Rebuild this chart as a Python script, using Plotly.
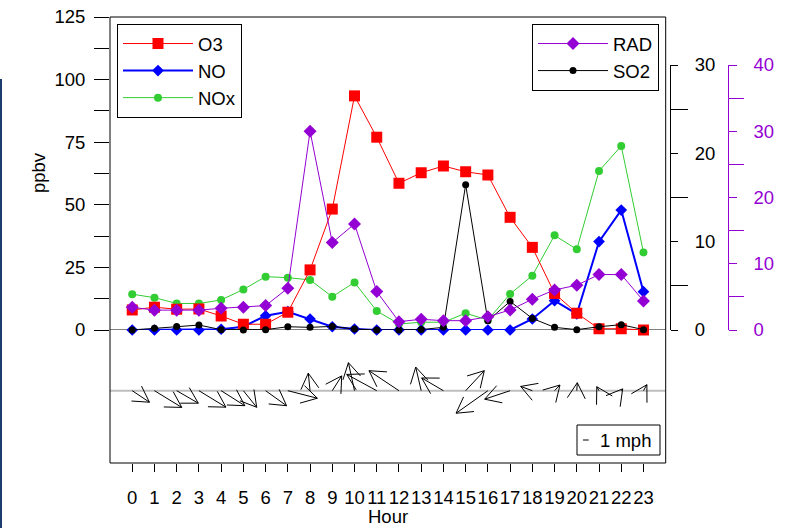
import math
import plotly.graph_objects as go

# ---------------- data ----------------
hours = list(range(24))
hour_labels = [str(h) for h in hours]

o3 = [8.0, 9.1, 8.3, 8.4, 5.6, 2.3, 2.3, 7.1, 24.0, 48.3, 93.5, 77.0,
      58.6, 62.8, 65.5, 63.2, 61.9, 45.0, 33.0, 14.6, 6.7, 0.5, 0.5, 0.0]
no = [0.0, 0.0, 0.0, 0.0, 0.3, 1.3, 5.7, 7.3, 4.4, 1.3, 0.4, 0.0,
      0.0, 0.0, 0.0, 0.0, 0.0, 0.0, 4.4, 11.7, 6.4, 35.3, 47.9, 15.3]
nox = [14.3, 12.9, 10.6, 10.6, 12.0, 16.2, 21.3, 20.9, 20.0, 13.3, 19.0, 7.6,
       2.4, 3.1, 3.1, 6.7, 4.0, 14.4, 21.7, 37.8, 32.2, 63.5, 73.5, 31.0]
rad = [3.43, 3.0, 3.0, 3.0, 3.28, 3.43, 3.68, 6.3, 30.0, 13.2, 16.0, 5.8,
       1.26, 1.62, 1.41, 1.41, 2.0, 3.03, 4.64, 6.05, 6.76, 8.37, 8.37, 4.39]
so2 = [0.0, 0.2, 0.4, 0.56, 0.04, 0.0, 0.04, 0.37, 0.3, 0.41, 0.11, 0.0,
       0.0, 0.05, 0.3, 16.45, 1.05, 3.24, 1.31, 0.3, 0.04, 0.37, 0.6, 0.04]

# wind components (mph): u = toward east, v = toward north
wind_u = [3.02, 4.79, 3.79, 4.74, 4.16, 2.34, 3.68, 5.18, -0.31, 1.65, -1.07, -5.26,
          -5.26, -0.96, -3.81, 3.27, -5.58, -4.46, -2.04, 0.95, 0.09, -0.39, 0.25, 0.60]
wind_v = [-2.02, -2.93, -2.19, -2.89, -2.63, -2.91, -2.63, -1.32, 3.07, 2.60, 4.91, 2.86,
          3.51, 4.14, 2.23, 3.51, -3.95, -1.49, 0.75, 1.00, 1.40, 0.70, 0.32, 1.05]

# ---------------- layout geometry (px) ----------------
W, H = 787, 528
FRAME_L, FRAME_R = 110, 665.7
FRAME_T, PANEL_SPLIT, FRAME_B = 17, 330, 463
RIGHT_AX_TOP = 65
BLACK_AX_X, PURPLE_AX_X = 670, 727.7
WIND_BASE_Y = 390.7
X_RANGE = [-1, 24]
PX_PER_MPH = 5.7
HEAD_PX = 18
FONT = "Liberation Sans, Arial, sans-serif"
FS = 18.5

RED, BLUE, GREEN, PURPLE = "#FF0000", "#0000FF", "#32CD32", "#9400D3"


def px_x(px):
    return px / W


def px_y(py):
    return 1 - py / H


px_per_hour = (FRAME_R - FRAME_L) / (X_RANGE[1] - X_RANGE[0])
wind_range = [-(FRAME_B - WIND_BASE_Y) / PX_PER_MPH, (WIND_BASE_Y - PANEL_SPLIT) / PX_PER_MPH]

# ---------------- wind arrows ----------------
ax_x, ax_y = [], []
for h, u, v in zip(hours, wind_u, wind_v):
    dxp, dyp = u * PX_PER_MPH, v * PX_PER_MPH
    L = math.hypot(dxp, dyp)
    if L == 0:
        continue
    tip = (dxp, dyp)
    bx, by = -dxp / L, -dyp / L
    barbs = []
    for s in (1, -1):
        a = s * math.pi / 6
        rx = bx * math.cos(a) - by * math.sin(a)
        ry = bx * math.sin(a) + by * math.cos(a)
        barbs.append((tip[0] + HEAD_PX * rx, tip[1] + HEAD_PX * ry))

    def to_data(p, h=h):
        return h + p[0] / px_per_hour, p[1] / PX_PER_MPH

    pts = [to_data((0, 0)), to_data(tip), None, to_data(barbs[0]), to_data(tip), to_data(barbs[1]), None]
    for p in pts:
        if p is None:
            ax_x.append(None)
            ax_y.append(None)
        else:
            ax_x.append(p[0])
            ax_y.append(p[1])

fig = go.Figure()

fig.add_trace(go.Scatter(x=hours, y=rad, name="RAD", mode="lines+markers", yaxis="y4",
                         line=dict(color=PURPLE, width=1),
                         marker=dict(symbol="diamond", size=10, color=PURPLE),
                         legend="legend2", legendrank=1, cliponaxis=False))
fig.add_trace(go.Scatter(x=hours, y=so2, name="SO2", mode="lines+markers", yaxis="y3",
                         line=dict(color="black", width=1),
                         marker=dict(symbol="circle", size=7, color="black"),
                         legend="legend2", legendrank=2, cliponaxis=False))
fig.add_trace(go.Scatter(x=hours, y=nox, name="NOx", mode="lines+markers",
                         line=dict(color=GREEN, width=1),
                         marker=dict(symbol="circle", size=8, color=GREEN),
                         legendrank=3, cliponaxis=False))
fig.add_trace(go.Scatter(x=hours, y=no, name="NO", mode="lines+markers",
                         line=dict(color=BLUE, width=2),
                         marker=dict(symbol="diamond", size=9, color=BLUE),
                         legendrank=2, cliponaxis=False))
fig.add_trace(go.Scatter(x=hours, y=o3, name="O3", mode="lines+markers",
                         line=dict(color=RED, width=1),
                         marker=dict(symbol="square", size=11, color=RED),
                         legendrank=1, cliponaxis=False))

fig.add_trace(go.Scatter(x=ax_x, y=ax_y, mode="lines", yaxis="y2", showlegend=False,
                         line=dict(color="black", width=1), hoverinfo="skip", cliponaxis=False))

xdom = [px_x(FRAME_L), px_x(FRAME_R)]
tickfont = dict(family=FONT, size=FS, color="black")

fig.update_layout(
    width=W, height=H, autosize=False,
    margin=dict(l=0, r=0, t=0, b=0, pad=0, autoexpand=False),
    paper_bgcolor="white", plot_bgcolor="rgba(0,0,0,0)",
    font=dict(family=FONT, size=FS, color="black"),
    xaxis=dict(domain=xdom, range=X_RANGE, anchor="y2", tickvals=hours, ticktext=hour_labels,
               ticks="outside", ticklen=8, tickcolor="black", tickwidth=1, tickangle=0,
               tickfont=tickfont, showgrid=False, zeroline=False, showline=False,
               ticklabelstandoff=10, automargin=False),
    yaxis=dict(domain=[px_y(PANEL_SPLIT), px_y(FRAME_T)], range=[0, 125], anchor="x",
               tickvals=[0, 25, 50, 75, 100, 125], ticks="outside", ticklen=15, tickcolor="black",
               minor=dict(tickvals=[12.5, 37.5, 62.5, 87.5, 112.5], ticks="outside", ticklen=15,
                          tickcolor="black"),
               tickfont=tickfont, showgrid=False, zeroline=False, showline=False,
               ticklabelstandoff=5, automargin=False),
    yaxis2=dict(domain=[px_y(FRAME_B), px_y(PANEL_SPLIT)], range=wind_range, anchor="x",
                visible=False, showgrid=False, zeroline=False, automargin=False),
    yaxis3=dict(domain=[px_y(PANEL_SPLIT), px_y(RIGHT_AX_TOP)], range=[0, 30], anchor="free",
                position=px_x(BLACK_AX_X), side="right", showline=True, linecolor="black",
                linewidth=1, tickvals=[0, 10, 20, 30], ticks="outside", ticklen=7,
                tickcolor="black",
                minor=dict(tickvals=[5, 15, 25], ticks="outside", ticklen=17, tickcolor="black"),
                tickfont=tickfont, showgrid=False, zeroline=False, ticklabelstandoff=13,
                automargin=False),
    yaxis4=dict(domain=[px_y(PANEL_SPLIT), px_y(RIGHT_AX_TOP)], range=[0, 40], anchor="free",
                position=px_x(PURPLE_AX_X), side="right", showline=True, linecolor=PURPLE,
                linewidth=1, tickvals=[0, 10, 20, 30, 40], ticks="outside", ticklen=8,
                tickcolor=PURPLE,
                minor=dict(tickvals=[5, 15, 25, 35], ticks="outside", ticklen=15, tickcolor=PURPLE),
                tickfont=dict(family=FONT, size=FS, color=PURPLE), showgrid=False,
                zeroline=False, ticklabelstandoff=13, automargin=False),
    legend=dict(x=px_x(117), y=px_y(24), xanchor="left", yanchor="top",
                bordercolor="black", borderwidth=1, bgcolor="white",
                font=dict(family=FONT, size=FS, color="black"), itemwidth=70,
                traceorder="normal"),
    legend2=dict(x=px_x(659), y=px_y(24), xanchor="right", yanchor="top",
                 bordercolor="black", borderwidth=1, bgcolor="white",
                 font=dict(family=FONT, size=FS, color="black"), itemwidth=70,
                 traceorder="normal"),
    showlegend=True,
)

shapes = [
    # outer frame
    dict(type="rect", xref="paper", yref="paper", x0=xdom[0], x1=xdom[1],
         y0=px_y(FRAME_B), y1=px_y(FRAME_T), line=dict(color="black", width=1), layer="above"),
    # zero line of the concentration panel
    dict(type="line", xref="paper", yref="y", x0=xdom[0], x1=xdom[1], y0=0, y1=0,
         line=dict(color="black", width=1), layer="below"),
    # wind baseline
    dict(type="line", xref="paper", yref="y2", x0=xdom[0], x1=xdom[1], y0=0, y1=0,
         line=dict(color="#BEBEBE", width=2), layer="below"),
    # wind scale legend box
    dict(type="rect", xref="paper", yref="paper", x0=px_x(577), x1=px_x(660),
         y0=px_y(455), y1=px_y(425), line=dict(color="black", width=1),
         fillcolor="white", layer="above"),
    # 1 mph reference segment
    dict(type="line", xref="paper", yref="paper", x0=px_x(583), x1=px_x(583 + PX_PER_MPH),
         y0=px_y(440), y1=px_y(440), line=dict(color="black", width=1), layer="above"),
    # page edge line
    dict(type="line", xref="paper", yref="paper", x0=px_x(1), x1=px_x(1),
         y0=px_y(79), y1=0, line=dict(color="#1B3D70", width=2)),
]
fig.update_layout(shapes=shapes)

fig.add_annotation(text="1 mph", xref="paper", yref="paper", x=px_x(598), y=px_y(440),
                   xanchor="left", yanchor="middle", showarrow=False,
                   font=dict(family=FONT, size=FS, color="black"))
fig.add_annotation(text="ppbv", xref="paper", yref="paper", x=px_x(38), y=px_y(173),
                   xanchor="center", yanchor="middle", textangle=-90, showarrow=False,
                   font=dict(family=FONT, size=FS, color="black"))
fig.add_annotation(text="Hour", xref="paper", yref="paper", x=px_x(388), y=px_y(516),
                   xanchor="center", yanchor="middle", showarrow=False, borderpad=0,
                   font=dict(family=FONT, size=FS, color="black"))

fig.write_html("out.html")
